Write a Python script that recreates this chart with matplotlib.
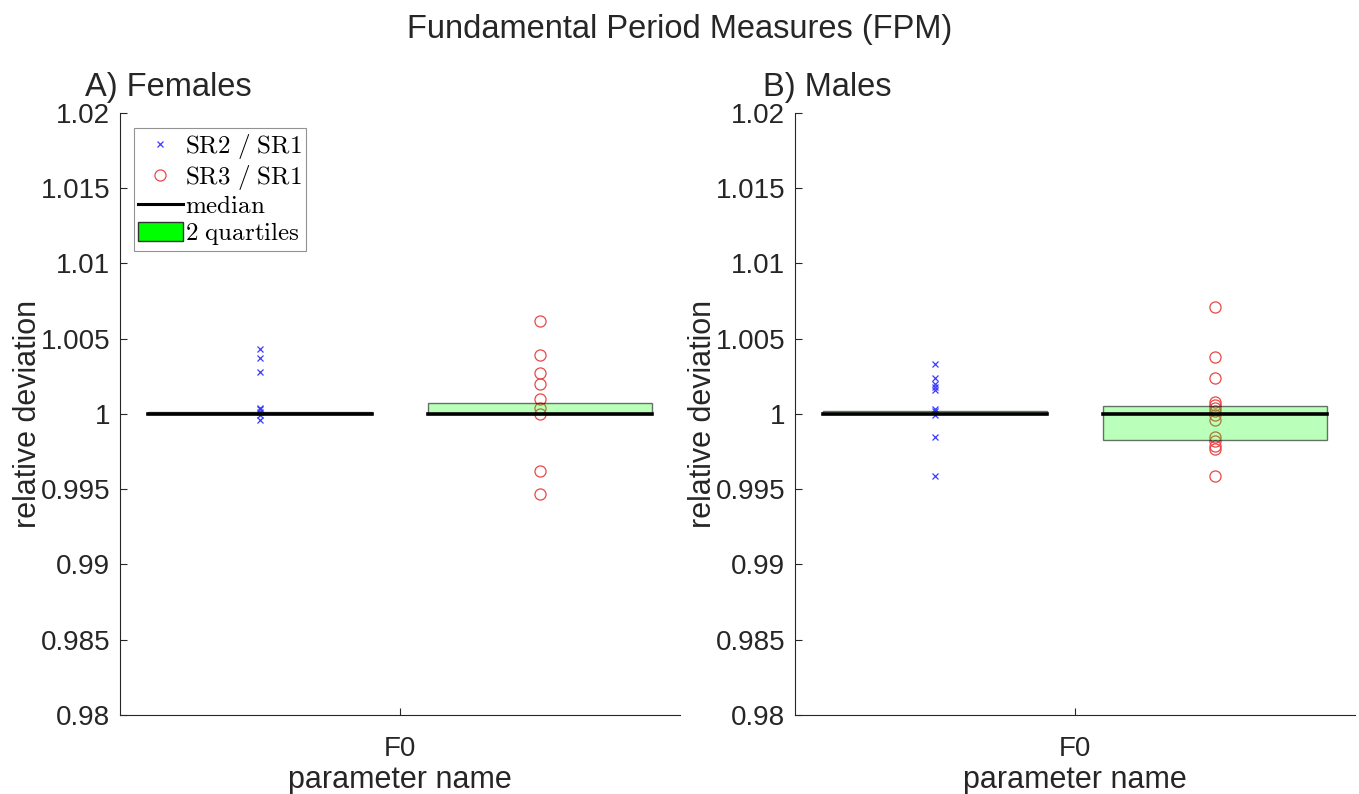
import matplotlib
matplotlib.use("Agg")
import matplotlib.pyplot as plt
from matplotlib.lines import Line2D
from matplotlib.patches import Patch, Rectangle

plt.rcParams["font.family"] = ["Liberation Sans", "DejaVu Sans"]
plt.rcParams["mathtext.fontset"] = "cm"

# values
panel_titles = ["A) Females", "B) Males"]
param_names = ["F0"]

fem_sr2 = [1.0043, 1.0037, 1.0028, 1.0004, 1.0003, 1.0001, 0.9999, 0.9996]
fem_sr3 = [1.0062, 1.0039, 1.0027, 1.0020, 1.0010, 1.0004, 1.0000, 0.9962, 0.9947]
male_sr2 = [1.0033, 1.0024, 1.0020, 1.0018, 1.0016, 1.0003, 1.0002, 0.9999, 0.9985, 0.9959]
male_sr3 = [1.0071, 1.0038, 1.0024, 1.0008, 1.0006, 1.0004, 1.0002, 0.9999,
            0.9996, 0.9985, 0.9982, 0.9979, 0.9977, 0.9959]

# (q1, median, q3) per ratio
fem_stats = [(1.0000, 1.0000, 1.0001), (1.0000, 1.0000, 1.0007)]
male_stats = [(1.0000, 1.0000, 1.0002), (0.9983, 1.0000, 1.0005)]

yticks = [0.98, 0.985, 0.99, 0.995, 1.0, 1.005, 1.01, 1.015, 1.02]
ytick_labels = ["0.98", "0.985", "0.99", "0.995", "1", "1.005", "1.01", "1.015", "1.02"]

blue = "#3c3cff"
red = "#e84848"
axis_col = "#262626"

fig = plt.figure(figsize=(13.59, 7.94), dpi=100)
ax_a = fig.add_axes([0.0883, 0.0995, 0.4121, 0.7582])
ax_b = fig.add_axes([0.585, 0.0995, 0.4121, 0.7582])

panels = [
    (ax_a, fem_sr2, fem_sr3, fem_stats),
    (ax_b, male_sr2, male_sr3, male_stats),
]

for i, (ax, sr2, sr3, stats) in enumerate(panels):
    ax.plot([0.75] * len(sr2), sr2, "x", color=blue, ms=5, mew=0.9, zorder=2)
    ax.plot([1.25] * len(sr3), sr3, "o", mfc="none", mec=red, ms=8, mew=0.9, zorder=2)

    for (q1, med, q3), (x0, x1) in zip(stats, [(0.55, 0.95), (1.05, 1.45)]):
        ax.add_patch(Rectangle((x0, q1), x1 - x0, q3 - q1, facecolor=(0, 1, 0, 0.27),
                               edgecolor=(0, 0, 0, 0.55), lw=1.0, zorder=3))
        ax.plot([x0, x1], [med, med], color="black", lw=2.6, zorder=4)

    ax.set_xlim(0.5, 1.5)
    ax.set_ylim(0.98, 1.02)
    ax.set_xticks([1])
    ax.set_xticklabels(param_names)
    ax.set_yticks(yticks)
    ax.set_yticklabels(ytick_labels)
    ax.tick_params(direction="in", length=5, width=0.8, colors=axis_col,
                   labelsize=20, labelcolor=axis_col)
    ax.tick_params(axis="x", pad=15)
    ax.tick_params(axis="y", pad=7)
    for side in ["top", "right"]:
        ax.spines[side].set_visible(False)
    for side in ["left", "bottom"]:
        ax.spines[side].set_color(axis_col)
        ax.spines[side].set_linewidth(0.8)
    ax.set_xlabel("parameter name", fontsize=22, color=axis_col, labelpad=2)
    ax.set_ylabel("relative deviation", fontsize=22, color=axis_col, labelpad=-2)
    ax.set_title(panel_titles[i], fontsize=23.5, color=axis_col, loc="left",
                 x=-0.062 if i == 0 else -0.057, pad=12)

handles = [
    Line2D([], [], ls="none", marker="x", color=blue, ms=5, mew=0.9),
    Line2D([], [], ls="none", marker="o", mfc="none", mec=red, ms=8, mew=0.9),
    Line2D([], [], color="black", lw=2.2),
    Patch(facecolor="#00ff00", edgecolor="#333333"),
]
labels = [r"$\mathrm{SR2\ /\ SR1}$", r"$\mathrm{SR3\ /\ SR1}$",
          r"$\mathrm{median}$", r"$\mathrm{2\ quartiles}$"]
leg = ax_a.legend(handles, labels, loc="upper left", bbox_to_anchor=(0.025, 0.975),
                  fontsize=18, frameon=True, fancybox=False, borderpad=0.15,
                  handlelength=1.8, handleheight=0.8, handletextpad=0.1,
                  labelspacing=0.08, borderaxespad=0)
leg.get_frame().set_edgecolor("#777777")
leg.get_frame().set_linewidth(0.8)

fig.suptitle("Fundamental Period Measures (FPM)", fontsize=23.5, color=axis_col, y=0.982)

fig.savefig("out.png", dpi=100)
